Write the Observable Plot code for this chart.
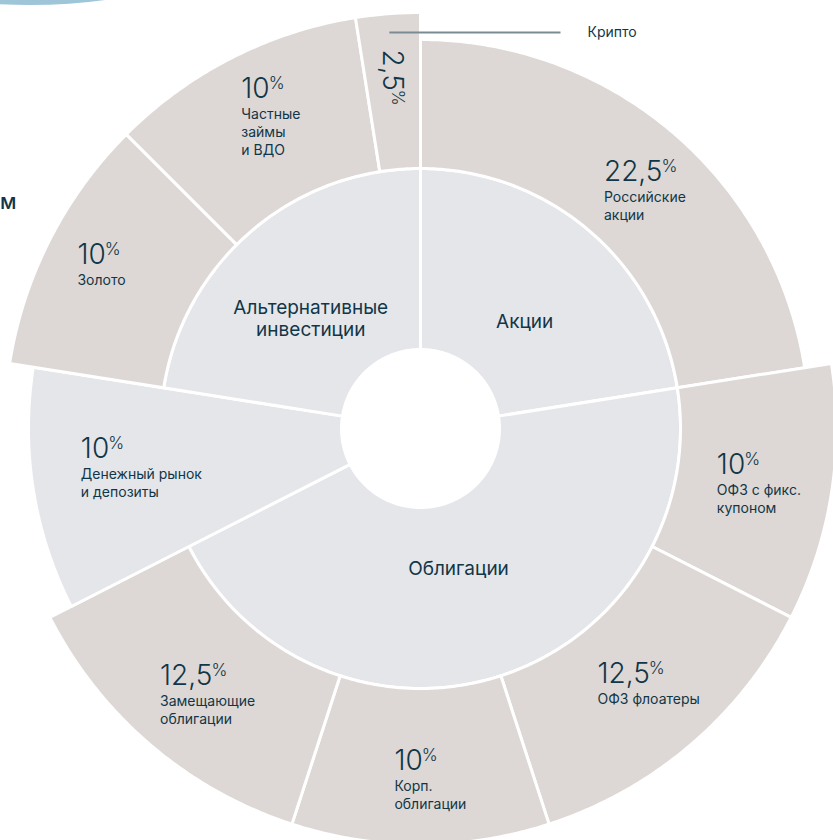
<!DOCTYPE html>
<html><head><meta charset="utf-8">
<script src="https://cdn.jsdelivr.net/npm/d3@7"></script>
<script src="https://cdn.jsdelivr.net/npm/@observablehq/plot@0.6"></script>
<style>
html,body{margin:0;padding:0;background:#fff;overflow:hidden}
#wrap{position:relative;width:833px;height:840px;overflow:hidden;font-family:Inter,sans-serif}
#chart{position:absolute;left:0;top:0}
#blob{position:absolute;left:-170px;top:-131px;width:400px;height:136px;border-radius:50%;background:#9fc5d9}
#cut{position:absolute;left:0px;top:191px;font:500 21px/21px Inter,sans-serif;color:#113647}
</style></head><body>
<div id="wrap"><div id="chart"></div><div id="blob"></div><div id="cut">м</div></div>
<script>
// ---------- DATA ----------
const groups = ["Акции", "Облигации", "Денежный рынок и депозиты", "Альтернативные инвестиции"];
const groupLabels = ["Акции", "Облигации", null, "Альтернативные\nинвестиции"];
const categories = ["Российские акции", "ОФЗ с фикс. купоном", "ОФЗ флоатеры", "Корп. облигации",
  "Замещающие облигации", "Денежный рынок и депозиты", "Золото", "Частные займы и ВДО", "Крипто"];
const categoryGroup = ["Акции", "Облигации", "Облигации", "Облигации", "Облигации",
  "Денежный рынок и депозиты", "Альтернативные инвестиции", "Альтернативные инвестиции", "Альтернативные инвестиции"];
const shares = [22.5, 10, 12.5, 10, 12.5, 10, 10, 10, 2.5];
const categoryLabels = ["Российские\nакции", "ОФЗ с фикс.\nкупоном", "ОФЗ флоатеры", "Корп.\nоблигации",
  "Замещающие\nоблигации", "Денежный рынок\nи депозиты", "Золото", "Частные\nзаймы\nи ВДО", "Крипто"];

// ---------- LAYOUT ----------
const R_HOLE = 79, R_MID = 260, R_OUT = 416;
const outerR = {"Российские акции": 389, "Денежный рынок и депозиты": 392};
const labelPos = { // [angle offset (deg), radius]
  "Российские акции": [3, 326], "ОФЗ с фикс. купоном": [0.4, 343], "ОФЗ флоатеры": [-1.2, 343],
  "Корп. облигации": [-1.6, 353], "Замещающие облигации": [-2, 342], "Денежный рынок и депозиты": [0.8, 282],
  "Золото": [0, 358], "Частные займы и ВДО": [1.3, 345], "Крипто": [0, 352]
};
const groupLabelPos = {"Акции": [3.5, 150], "Облигации": [2.7, 144], "Альтернативные инвестиции": [-4.2, 156]};
const cryptoLeader = {y: 396, x2: 140, textX: 167};
const INNER = "#e5e6ea", OUTER = "#ddd8d5", INK = "#113647", LEADER = "#7b8b93";
const FONT = "Inter, sans-serif";
const NUM_FS = 28, PCT_FS = 17, NAME_FS = 14, NAME_LH = 18, CAP = 20, PCT_GAP = -1;

// ---------- helpers ----------
const msvg = d3.select("body").append("svg").attr("width", 10).attr("height", 10)
  .style("position", "absolute").style("left", "-100px").style("top", "-100px");
const mt = msvg.append("text").attr("font-family", FONT);
function tw(s, weight, size) {
  mt.attr("font-weight", weight).attr("font-size", size).text(s);
  return mt.node().getComputedTextLength();
}
const fmt = v => String(v).replace(".", ",");
const rad = a => a * Math.PI / 180;
function arcPoly(id, a0, a1, r0, r1, fill) {
  const pts = [];
  const n = Math.max(2, Math.ceil((a1 - a0) / 0.5));
  for (let i = 0; i <= n; i++) { const a = rad(a0 + (a1 - a0) * i / n); pts.push({id, fill, x: r1 * Math.sin(a), y: r1 * Math.cos(a)}); }
  for (let i = n; i >= 0; i--) { const a = rad(a0 + (a1 - a0) * i / n); pts.push({id, fill, x: r0 * Math.sin(a), y: r0 * Math.cos(a)}); }
  pts.push({...pts[0]});
  return pts;
}

const total = d3.sum(shares);
let cum = 0;
const cats = categories.map((c, i) => {
  const a0 = cum / total * 360; cum += shares[i]; const a1 = cum / total * 360;
  return {name: c, i, group: categoryGroup[i], a0, a1, mid: (a0 + a1) / 2};
});

const polys = [];
const groupInfo = [];
groups.forEach((g, gi) => {
  const kids = cats.filter(c => c.group === g);
  const a0 = d3.min(kids, k => k.a0), a1 = d3.max(kids, k => k.a1);
  if (kids.length === 1 && kids[0].name === g) {
    polys.push(...arcPoly(g, a0, a1, R_HOLE, outerR[g] ?? R_OUT, INNER));
  } else {
    polys.push(...arcPoly(g, a0, a1, R_HOLE, R_MID, INNER));
    kids.forEach(k => polys.push(...arcPoly(k.name, k.a0, k.a1, R_MID, outerR[k.name] ?? R_OUT, OUTER)));
  }
  if (groupLabels[gi]) {
    const [da, r] = groupLabelPos[g];
    const a = rad((a0 + a1) / 2 + da);
    groupInfo.push({label: groupLabels[gi], x: r * Math.sin(a), y: r * Math.cos(a)});
  }
});

// category label blocks
const numLabels = [], pctLabels = [], nameLabels = [], rotNum = [], rotPct = [];
let cryptoName = [], leader = [];
cats.forEach(c => {
  const num = fmt(shares[c.i]);
  const numW = tw(num, 300, NUM_FS);
  const pctW = tw("%", 300, PCT_FS);
  const [da, r] = labelPos[c.name];
  const a = rad(c.mid + da);
  const cx = r * Math.sin(a), cy = r * Math.cos(a);
  if (c.name === "Крипто") {
    const len = numW + PCT_GAP + pctW;
    rotNum.push({t: num, x: cx - CAP / 2, y: cy + len / 2});
    rotPct.push({t: "%", x: cx + CAP / 2 + 1, y: cy + len / 2 - numW - PCT_GAP});
    const yl = cryptoLeader.y;
    leader = [{x1: yl * Math.tan(rad(c.mid)), x2: cryptoLeader.x2, y: yl}];
    cryptoName = [{t: categoryLabels[c.i], x: cryptoLeader.textX, y: yl}];
    return;
  }
  const lines = categoryLabels[c.i].split("\n");
  const nameW = d3.max(lines, l => tw(l, 400, NAME_FS));
  const w = Math.max(numW + PCT_GAP + pctW, nameW);
  const h = 41 + NAME_LH * (lines.length - 1) + 3;
  const left = cx - w / 2, top = cy + h / 2;
  numLabels.push({t: num, x: left, y: top - CAP});
  pctLabels.push({t: "%", x: left + numW + PCT_GAP, y: top + 1});
  nameLabels.push({t: categoryLabels[c.i], x: left, y: top - (41 - 0.71 * NAME_LH)});
});
msvg.remove();

const chart = Plot.plot({
  width: 833, height: 840, margin: 0,
  x: {domain: [-420, 413], axis: null},
  y: {domain: [-412, 428], axis: null},
  color: {type: "identity"},
  style: {fontFamily: FONT, background: "transparent"},
  marks: [
    Plot.line(polys, {x: "x", y: "y", z: "id", fill: "fill", stroke: "white", strokeWidth: 3, strokeLinejoin: "round", curve: "linear"}),
    Plot.text(groupInfo, {x: "x", y: "y", text: "label", fill: INK, fontSize: 19, lineHeight: 1.2, textAnchor: "middle", lineAnchor: "middle"}),
    Plot.text(numLabels, {x: "x", y: "y", text: "t", fill: INK, fontSize: NUM_FS, fontWeight: 300, textAnchor: "start", lineAnchor: "bottom"}),
    Plot.text(pctLabels, {x: "x", y: "y", text: "t", fill: INK, fontSize: PCT_FS, fontWeight: 300, textAnchor: "start", lineAnchor: "top"}),
    Plot.text(nameLabels, {x: "x", y: "y", text: "t", fill: INK, fontSize: NAME_FS, lineHeight: NAME_LH / NAME_FS, textAnchor: "start", lineAnchor: "top"}),
    Plot.text(rotNum, {x: "x", y: "y", text: "t", fill: INK, fontSize: NUM_FS, fontWeight: 300, rotate: 90, textAnchor: "start", lineAnchor: "bottom"}),
    Plot.text(rotPct, {x: "x", y: "y", text: "t", fill: INK, fontSize: PCT_FS, fontWeight: 300, rotate: 90, textAnchor: "start", lineAnchor: "top"}),
    Plot.link(leader, {x1: "x1", x2: "x2", y1: "y", y2: "y", stroke: LEADER, strokeWidth: 2}),
    Plot.text(cryptoName, {x: "x", y: "y", text: "t", fill: INK, fontSize: NAME_FS, textAnchor: "start", lineAnchor: "middle"})
  ]
});
document.getElementById("chart").appendChild(chart);
</script>
</body></html>
